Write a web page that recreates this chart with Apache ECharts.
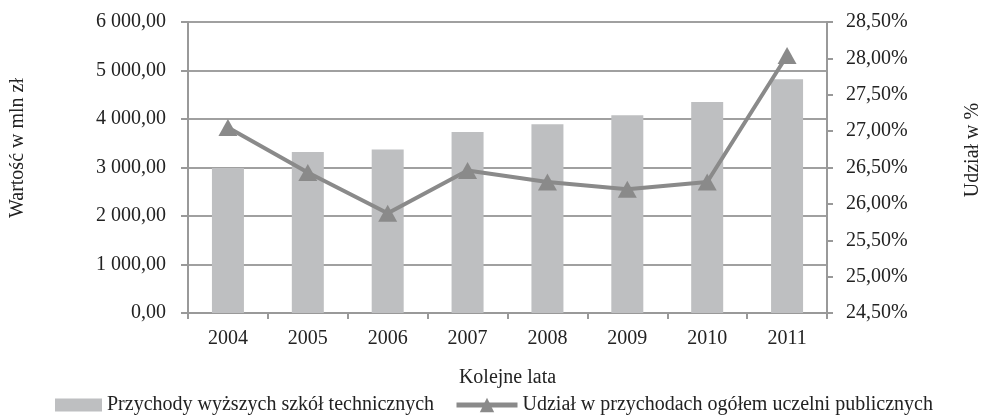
<!DOCTYPE html>
<html><head><meta charset="utf-8">
<script src="https://cdn.jsdelivr.net/npm/echarts@6/dist/echarts.min.js"></script>
<style>html,body{margin:0;padding:0;background:#fff}#c{width:983px;height:417px}</style>
</head><body><div id="c"></div>
<script>
const years = ['2004','2005','2006','2007','2008','2009','2010','2011'];
const revenues = [2990, 3320, 3370, 3730, 3890, 4075, 4350, 4820];
const shares = [27.05, 26.43, 25.87, 26.46, 26.30, 26.20, 26.30, 28.04];
const barName = 'Przychody wyższych szkół technicznych';
const lineName = 'Udział w przychodach ogółem uczelni publicznych';
const xTitle = 'Kolejne lata';
const yLeftTitle = 'Wartość w mln zł';
const yRightTitle = 'Udział w %';

const F = 'Liberation Serif, Times New Roman, serif';
const FS = 20;
const TC = '#222';
function fmtLeft(v){
  const s = v.toFixed(2).split('.');
  return s[0].replace(/\B(?=(\d{3})+(?!\d))/g, ' ') + ',' + s[1];
}
const chart = echarts.init(document.getElementById('c'), null, {renderer:'canvas'});
chart.setOption({
  animation:false,
  textStyle:{fontFamily:F, color:TC},
  grid:{left:188, right:156, top:22, bottom:104, containLabel:false},
  legend:[{
    top:395, left:55, padding:0, itemWidth:47, itemHeight:13,
    textStyle:{fontFamily:F, fontSize:FS, color:TC},
    data:[{name:barName, icon:'rect'}]
  },{
    top:395, left:454, padding:0, itemWidth:61, itemHeight:18,
    textStyle:{fontFamily:F, fontSize:FS, color:TC},
    lineStyle:{width:5, color:'#8a8a8a'},
    data:[{name:lineName}]
  }],
  graphic:[{
    type:'text', x:18, y:148, rotation:Math.PI/2,
    style:{text:yLeftTitle, fontFamily:F, fontSize:FS, fill:TC, align:'center', verticalAlign:'middle'}
  },{
    type:'text', x:973, y:150, rotation:Math.PI/2,
    style:{text:yRightTitle, fontFamily:F, fontSize:FS, fill:TC, align:'center', verticalAlign:'middle'}
  }],
  xAxis:{
    type:'category', data:years, name:xTitle, nameLocation:'middle', nameGap:55,
    nameTextStyle:{fontFamily:F, fontSize:FS, color:TC},
    axisLine:{lineStyle:{color:'#999', width:2}},
    axisTick:{show:true, length:6, lineStyle:{color:'#999', width:2}},
    axisLabel:{fontFamily:F, fontSize:FS, color:TC, margin:16}
  },
  yAxis:[{
    type:'value', min:0, max:6000, interval:1000,
    axisLine:{show:true, lineStyle:{color:'#999', width:2}},
    axisTick:{show:true, length:7, lineStyle:{color:'#999', width:2}},
    splitLine:{lineStyle:{color:'#a0a0a0', width:2}},
    axisLabel:{fontFamily:F, fontSize:FS, color:TC, margin:22, formatter:fmtLeft}
  },{
    type:'value', min:24.5, max:28.5, interval:0.5, position:'right',
    axisLine:{show:true, lineStyle:{color:'#999', width:2}},
    axisTick:{show:true, length:6, lineStyle:{color:'#999', width:2}},
    splitLine:{show:false},
    axisLabel:{fontFamily:F, fontSize:FS, color:TC, margin:19,
      formatter:v=>v.toFixed(2).replace('.',',')+'%'}
  }],
  series:[{
    name:barName, type:'bar', data:revenues, barWidth:32,
    itemStyle:{color:'#bebfc1'}
  },{
    name:lineName, type:'line', yAxisIndex:1, data:shares,
    symbol:'triangle', symbolSize:[19,17],
    lineStyle:{color:'#8a8a8a', width:4},
    itemStyle:{color:'#8a8a8a'}
  }]
});
</script></body></html>
